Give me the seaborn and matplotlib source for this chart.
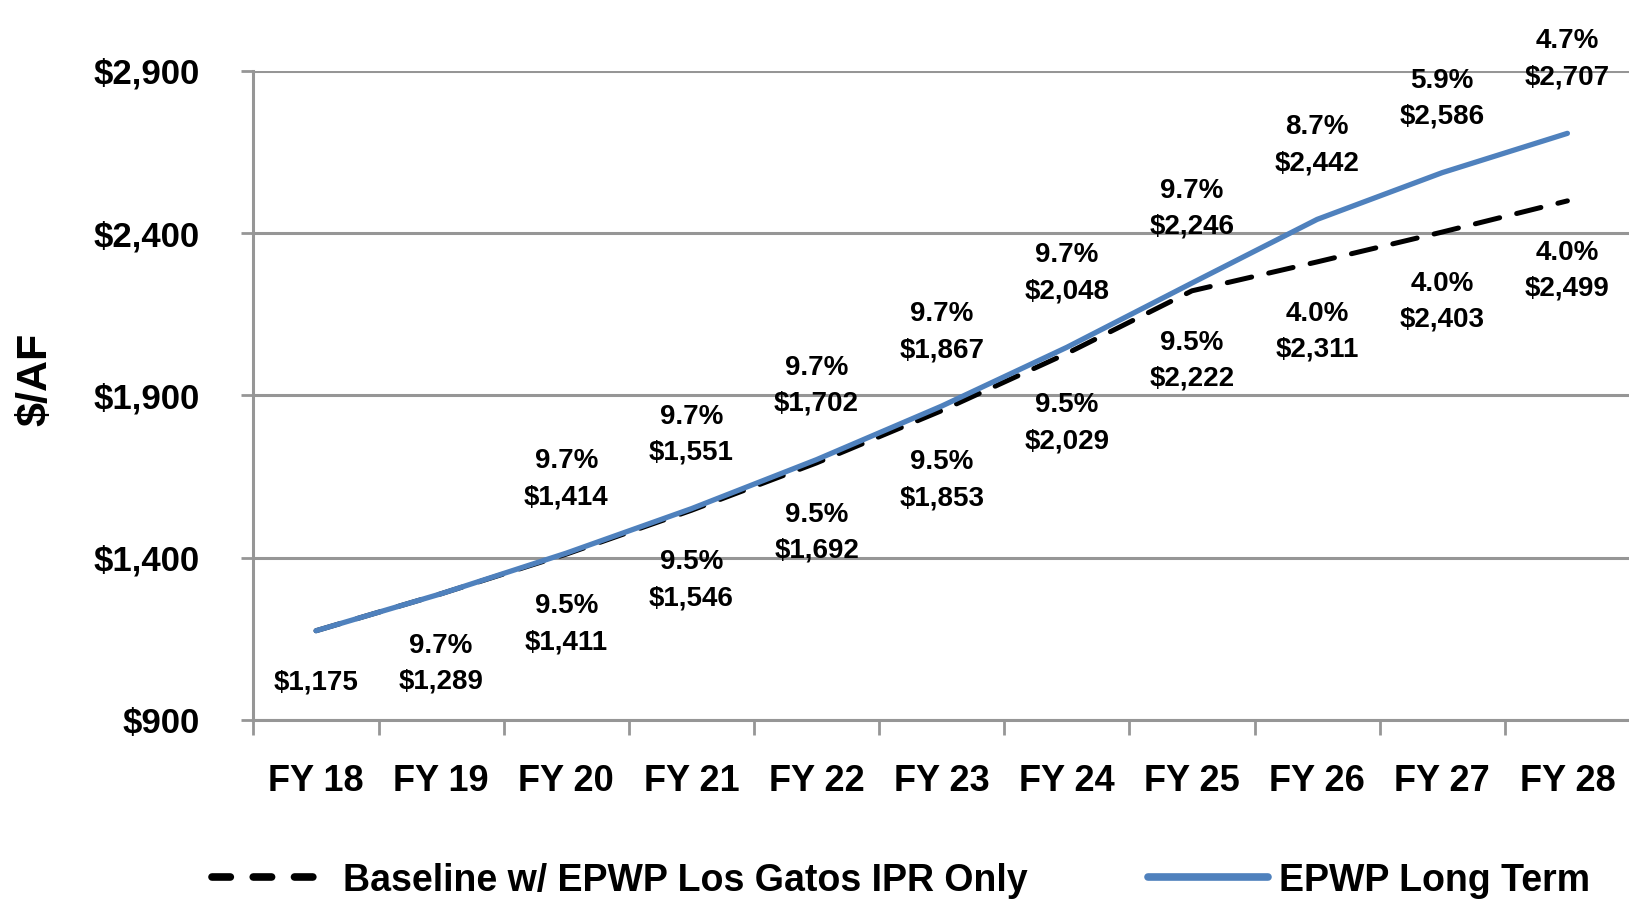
import numpy as np
import pandas as pd
import matplotlib
matplotlib.use("Agg")
import matplotlib.pyplot as plt
import seaborn as sns
from matplotlib.ticker import FuncFormatter, FixedLocator

# ── Data ─────────────────────────────────────────────────────
fiscal_years = ["FY 18", "FY 19", "FY 20", "FY 21", "FY 22", "FY 23",
                "FY 24", "FY 25", "FY 26", "FY 27", "FY 28"]
baseline     = [1175, 1289, 1411, 1546, 1692, 1853, 2029, 2222, 2311, 2403, 2499]
baseline_pct = ["", "9.7%", "9.5%", "9.5%", "9.5%", "9.5%", "9.5%", "9.5%",
                "4.0%", "4.0%", "4.0%"]
long_term     = [1175, 1289, 1414, 1551, 1702, 1867, 2048, 2246, 2442, 2586, 2707]
long_term_pct = ["", "", "9.7%", "9.7%", "9.7%", "9.7%", "9.7%", "9.7%",
                 "8.7%", "5.9%", "4.7%"]
show_long_label = [False, False, True, True, True, True, True, True, True, True, True]
y_ticks = [900, 1400, 1900, 2400, 2900]

BASE_NAME = "Baseline w/ EPWP Los Gatos IPR Only"
LONG_NAME = "EPWP Long Term"

sns.set_style("white")
plt.rcParams["font.family"] = ["Liberation Sans", "DejaVu Sans"]
plt.rcParams["font.weight"] = "bold"
plt.rcParams["text.color"] = "black"
plt.rcParams["xtick.labelcolor"] = "black"
plt.rcParams["ytick.labelcolor"] = "black"
plt.rcParams["ytick.major.pad"] = 30
plt.rcParams["ytick.major.size"] = 9
plt.rcParams["xtick.major.pad"] = 32

fig = plt.figure(figsize=(16.29, 9.05), dpi=100)
ax = fig.add_axes([0.1556, 0.2044, 0.845, 0.7175])

sns.lineplot(x=fiscal_years, y=baseline, ax=ax, color="black", lw=3.6,
             label=BASE_NAME, sort=False)
ax.lines[-1].set_dashes([5, 3.5])
ax.lines[-1].set_dash_capstyle("round")
sns.lineplot(x=fiscal_years, y=long_term, ax=ax, color="#4F81BD", lw=3.8,
             label=LONG_NAME, sort=False)

# ── Data labels ──────────────────────────────────────────────
lab_kw = dict(ha="center", fontsize=20, fontweight="bold", linespacing=1.5,
              textcoords="offset points", annotation_clip=False, color="black")
for i, (v, p) in enumerate(zip(baseline, baseline_pct)):
    txt = f"{p}\n${v:,}" if p else f"${v:,}"
    ax.annotate(txt, (i, v), xytext=(0, -28), va="top", **lab_kw)
for i, (v, p) in enumerate(zip(long_term, long_term_pct)):
    if show_long_label[i]:
        ax.annotate(f"{p}\n${v:,}", (i, v), xytext=(0, 31), va="bottom", **lab_kw)

# ── Axes styling ─────────────────────────────────────────────
ax.set_xlim(-0.5, len(fiscal_years) - 0.5)
ax.set_ylim(900, 2900)
ax.yaxis.set_major_locator(FixedLocator(y_ticks))
ax.yaxis.set_major_formatter(FuncFormatter(lambda v, _: f"${v:,.0f}"))
ax.grid(axis="y", color="#969696", lw=2.2)
ax.set_axisbelow(True)
for s in ["top", "right"]:
    ax.spines[s].set_visible(False)
for s in ["left", "bottom"]:
    ax.spines[s].set_color("#969696")
    ax.spines[s].set_linewidth(2.2)

ax.xaxis.set_minor_locator(FixedLocator(np.arange(-0.5, len(fiscal_years), 1.0)))
ax.tick_params(axis="x", which="major", length=0, labelsize=26)
ax.tick_params(axis="x", which="minor", length=11, width=2, color="#969696",
               direction="out", bottom=True)
ax.tick_params(axis="y", width=2, color="#969696", labelsize=25,
               left=True, direction="out")
for lbl in ax.get_xticklabels() + ax.get_yticklabels():
    lbl.set_fontweight("bold")
ax.set_xlabel("")
ax.set_ylabel("")

fig.text(0.022, 0.581, "$/AF", rotation=90, ha="center", va="center",
         fontsize=31, fontweight="bold")

leg = ax.legend(loc="center", bbox_to_anchor=(0.553, 0.027),
                bbox_transform=fig.transFigure, ncol=2, frameon=False,
                handlelength=3.2, handletextpad=0.3, columnspacing=3.2,
                prop={"weight": "bold", "size": 27})
handles = leg.get_lines()
for h in handles:
    h.set_linewidth(5.5)
handles[0].set_dashes([2.4, 3.0])
handles[0].set_dash_capstyle("round")

plt.savefig("out.png", dpi=100)
plt.close()
